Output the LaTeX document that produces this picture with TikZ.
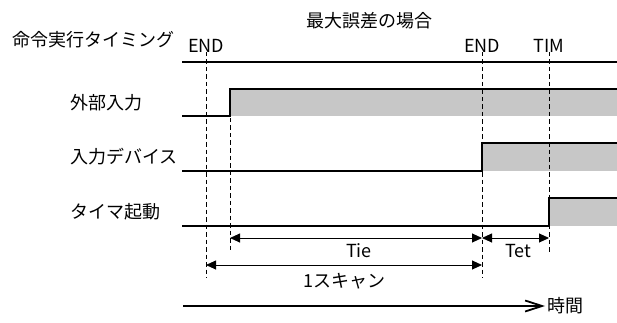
\documentclass[tikz,border=0pt]{standalone}
\usepackage{fontspec}
\setmainfont{Noto Sans CJK JP}
\usetikzlibrary{arrows.meta,positioning,calc}

\begin{document}
\begin{tikzpicture}[
      x=1pt, y=-1pt,
      every node/.style={font=\fontsize{18}{20}\selectfont, inner sep=0pt},
      sigline/.style={line width=2pt},
      sigfill/.style={fill=black!22},
      guide/.style={line width=0.8pt, dash pattern=on 4.5pt off 3pt},
      span/.style={line width=0.9pt, {Triangle[length=10pt,width=9pt]}-{Triangle[length=10pt,width=9pt]}},
      timearrow/.style={line width=1.8pt, -{Straight Barb[length=17pt,width=11pt,line width=1.8pt]}},
      lbl/.style={anchor=west}
    ]
    \useasboundingbox (0,0) rectangle (617,323);

    % Coordinates: rising edges and guide lines.
    \coordinate (L) at (182,0);     % left end of signals
    \coordinate (R) at (617,0);     % right end of signals
    \coordinate (endA) at (206,0);  % first END
    \coordinate (inA) at (230,0);   % external input rises
    \coordinate (endB) at (482,0);  % second END
    \coordinate (tim) at (549,0);   % TIM

    % Fills
    \fill[sigfill] (inA |- 0,89) rectangle (R |- 0,116);
    \fill[sigfill] (endB |- 0,143) rectangle (R |- 0,171);
    \fill[sigfill] (tim |- 0,198) rectangle (R |- 0,226);

    % Signals
    \draw[sigline] (L |- 0,62) -- (R |- 0,62);
    \draw[sigline] (L |- 0,116) -- (inA |- 0,116) -- (inA |- 0,89) -- (R |- 0,89);
    \draw[sigline] (L |- 0,171) -- (endB |- 0,171) -- (endB |- 0,143) -- (R |- 0,143);
    \draw[sigline] (L |- 0,226) -- (tim |- 0,226) -- (tim |- 0,198) -- (R |- 0,198);

    % Guides
    \draw[guide] (endA |- 0,52) -- (endA |- 0,278);
    \draw[guide] (inA |- 0,118) -- (inA |- 0,252);
    \draw[guide] (endB |- 0,52) -- (endB |- 0,278);
    \draw[guide] (tim |- 0,52) -- (tim |- 0,252);

    % Spans
    \draw[span] (inA |- 0,238) -- (endB |- 0,238);
    \draw[span] (endB |- 0,238) -- (tim |- 0,238);
    \draw[span] (endA |- 0,265) -- (endB |- 0,265);
    \node (tie) at (359,251) {Tie};
    \node (tet) at (518,251) {Tet};
    \node (scan) at (344,281) {1スキャン};

    % Time axis
    \coordinate (t0) at (183,306);
    \coordinate (t1) at (545,306);
    \draw[timearrow] (t0) -- (t1);
    \node[right=2pt of t1] (time) {時間};

    % Labels
    \node (title) at (369,21) {最大誤差の場合};
    \node[lbl] (exec) at (12,40) {命令実行タイミング};
    \node[lbl] (ext) at (70,103) {外部入力};
    \node[lbl] (dev) at (70,157) {入力デバイス};
    \node[lbl] (tmr) at (70,212) {タイマ起動};
    \node (endAt) at (endA |- 0,46) {END};
    \node (endBt) at (endB |- 0,46) {END};
    \node (timt) at (tim |- 0,46) {TIM};

    \end{tikzpicture}
\end{document}
